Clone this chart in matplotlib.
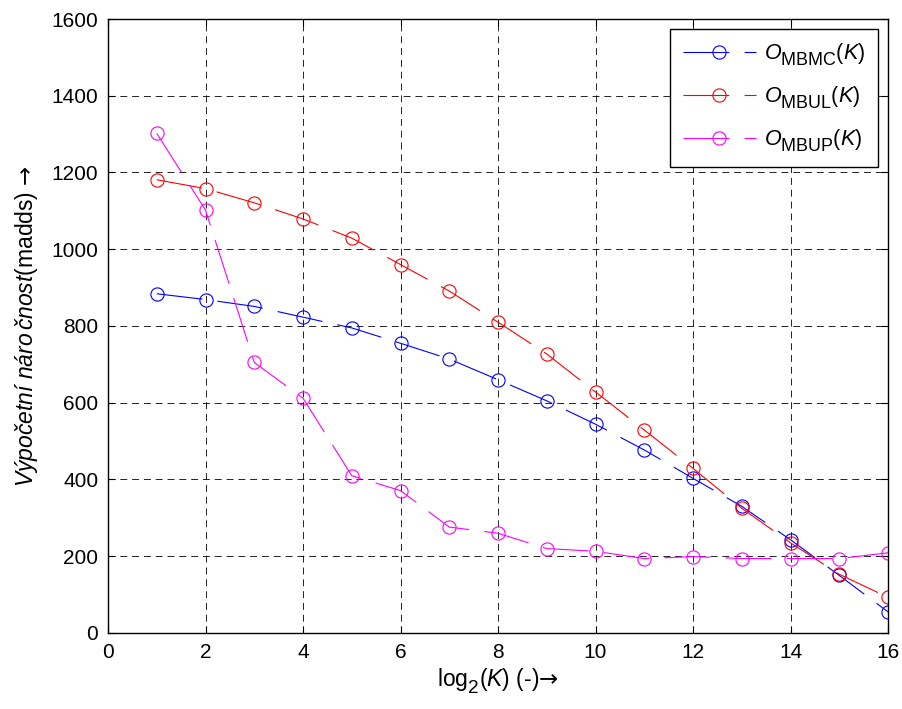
import numpy as np
import matplotlib
matplotlib.use("Agg")
import matplotlib.pyplot as plt
import matplotlib._mathtext as mt

# MATLAB-like subscripts: less shrunk and dropped lower than mathtext's default
mt.SHRINK_FACTOR = 0.83
mt.FontConstantsBase.sub1 = 0.55
mt.FontConstantsBase.sub2 = 0.7

plt.rcParams['font.family'] = ['Liberation Sans', 'DejaVu Sans']
plt.rcParams['mathtext.fontset'] = 'custom'
plt.rcParams['mathtext.rm'] = 'Liberation Sans'
plt.rcParams['mathtext.it'] = 'Liberation Sans:italic'
plt.rcParams['mathtext.sf'] = 'DejaVu Sans'
plt.rcParams['mathtext.fallback'] = 'stixsans'
plt.rcParams['mathtext.default'] = 'regular'
plt.rcParams['lines.scale_dashes'] = False

k = np.arange(1, 17)
o_mbmc = [884, 869, 851, 823, 795, 755, 714, 660, 605, 544, 477, 403, 330, 243, 150, 55]
o_mbul = [1181, 1158, 1121, 1079, 1029, 960, 891, 810, 727, 628, 529, 429, 325, 235, 153, 93]
o_mbup = [1302, 1102, 705, 612, 410, 371, 276, 260, 220, 213, 194, 199, 194, 194, 194, 209]

labels = [r'$\mathit{O}_{MBMC}(\mathit{K})$',
          r'$\mathit{O}_{MBUL}(\mathit{K})$',
          r'$\mathit{O}_{MBUP}(\mathit{K})$']
colors = ['#0000ff', '#ff0000', '#ff00ff']

fig = plt.figure(figsize=(9.03, 7.09), dpi=100)
ax = fig.add_axes([0.1196, 0.1072, 0.9834 - 0.1196, 0.9732 - 0.1072])

for y, lab, c in zip([o_mbmc, o_mbul, o_mbup], labels, colors):
    ax.plot(k, y, color=c, linewidth=0.8, linestyle=(0, (33, 11)),
            marker='o', markersize=9.5, markerfacecolor='none',
            markeredgecolor=c, markeredgewidth=0.8, label=lab)

ax.set_xlim(0, 16)
ax.set_ylim(0, 1600)
ax.set_xticks(np.arange(0, 17, 2))
ax.set_yticks(np.arange(0, 1601, 200))
ax.grid(True, color='k', linestyle=(0, (5, 3.5)), linewidth=0.6)
ax.tick_params(direction='in', top=True, right=True, length=5, width=0.8,
               labelsize=15, pad=7)
for s in ax.spines.values():
    s.set_linewidth(1.0)

ax.set_xlabel(r'log$_2$($\mathit{K}$) (-)$\mathsf{→}$', fontsize=16.5, labelpad=4)
ax.set_ylabel(r'$\mathit{Výpočetní\ náro\,čnost}$(madds)$\ \mathsf{→}$',
              fontsize=16.5, labelpad=8)

leg = ax.legend(loc='upper right', fontsize=15.5, handlelength=3.4,
                handletextpad=0.4, borderpad=0.6, labelspacing=0.75,
                borderaxespad=0.45, fancybox=False, framealpha=1,
                edgecolor='k')
leg.get_frame().set_linewidth(1.0)

fig.savefig('out.png', dpi=100)
